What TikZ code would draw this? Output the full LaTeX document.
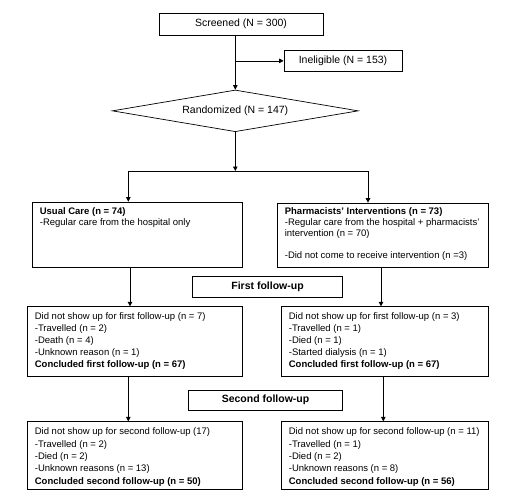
\documentclass[tikz,border=0pt]{standalone}
\usepackage{fontspec}
\setmainfont{Liberation Sans}
\usetikzlibrary{arrows.meta,shapes.geometric}
\begin{document}
\begin{tikzpicture}[x=1pt,y=-1pt,
  box/.style={draw, line width=0.7pt, rectangle, inner sep=0pt},
  big/.style={font=\fontsize{10.5}{12}\selectfont},
  tf/.style={anchor=north west, inner sep=0pt, align=left, font=\fontsize{9.5}{#1}\selectfont},
  arr/.style={line width=0.7pt, -{Triangle[length=4.5pt,width=4.5pt]}},
  ln/.style={line width=0.7pt}]
\useasboundingbox (0,0) rectangle (513,501);

% top
\node[box, big, minimum width=164pt, minimum height=21.7pt] (scr) at (241,24.15) {Screened (N = 300)};
\node[box, big, minimum width=118pt, minimum height=21.7pt] (inel) at (343,60.85) {Ineligible (N = 153)};
\node[draw, line width=0.7pt, diamond, aspect=5.9, minimum width=246pt, minimum height=41.7pt, inner sep=0pt, big] (rand) at (235.3,110.85) {Randomized (N = 147)};
\coordinate (split) at (235.3,171);

% arms
\node[box, minimum width=210.3pt, minimum height=65.7pt] (uc) at (137.15,234.85) {};
\node[box, minimum width=211.3pt, minimum height=64.7pt] (pi) at (382.65,235.35) {};
\node[tf=11pt] (uct) at ([xshift=8pt,yshift=-5.5pt]uc.north west)
  {\rule{0pt}{7.5pt}\textbf{Usual Care (n = 74)}\\-Regular care from the hospital only};
\node[tf=11pt] (pit) at ([xshift=8pt,yshift=-4.5pt]pi.north west)
  {\rule{0pt}{7.5pt}\textbf{Pharmacists' Interventions (n = 73)}\\-Regular care from the hospital + pharmacists'\\intervention (n = 70)\\[11pt]-Did not come to receive intervention (n =3)};

% first follow-up
\node[box, font=\bfseries\fontsize{10.5}{12}\selectfont, minimum width=150.4pt, minimum height=21.7pt] (ff) at (267.5,286.85) {First follow-up};
\node[box, minimum width=215pt, minimum height=69.3pt] (l2) at (134.8,341.35) {};
\node[box, minimum width=206.6pt, minimum height=69.3pt] (r2) at (385,341.35) {};
\node[tf=12pt] (l2t) at ([xshift=7.7pt,yshift=-5.5pt]l2.north west)
  {\rule{0pt}{7.5pt}Did not show up for first follow-up (n = 7)\\-Travelled (n = 2)\\-Death (n = 4)\\-Unknown reason (n = 1)\\\textbf{Concluded first follow-up (n = 67)}};
\node[tf=12pt] (r2t) at ([xshift=7.3pt,yshift=-5.5pt]r2.north west)
  {\rule{0pt}{7.5pt}Did not show up for first follow-up (n = 3)\\-Travelled (n = 1)\\-Died (n = 1)\\-Started dialysis (n = 1)\\\textbf{Concluded first follow-up (n = 67)}};

% second follow-up
\node[box, font=\bfseries\fontsize{10.5}{12}\selectfont, minimum width=154.4pt, minimum height=20pt] (sf) at (265.5,400) {Second follow-up};
\node[box, minimum width=215pt, minimum height=67.6pt] (l3) at (134.8,455.5) {};
\node[box, minimum width=206.6pt, minimum height=67.6pt] (r3) at (385,455.5) {};
\node[tf=12.3pt] (l3t) at ([xshift=7.7pt,yshift=-5.9pt]l3.north west)
  {\rule{0pt}{7.5pt}Did not show up for second follow-up (17)\\-Travelled (n = 2)\\-Died (n = 2)\\-Unknown reasons (n = 13)\\\textbf{Concluded second follow-up (n = 50)}};
\node[tf=12.3pt] (r3t) at ([xshift=7.3pt,yshift=-5.9pt]r3.north west)
  {\rule{0pt}{7.5pt}Did not show up for second follow-up (n = 11)\\-Travelled (n = 1)\\-Died (n = 2)\\-Unknown reasons (n = 8)\\\textbf{Concluded second follow-up (n = 56)}};

% connectors
\draw[arr] (rand.north |- scr.south) -- (rand.north);
\draw[arr] (rand.north |- inel.west) -- (inel.west);
\draw[arr] (rand.south) -- (split);
\draw[arr] (split) -| ([xshift=-8.85pt]uc.north);
\draw[arr] (split) -| ([xshift=-14.65pt]pi.north);
\draw[arr] ([xshift=-7.15pt]uc.south) -- ([xshift=-7.15pt]uc.south |- l2.north);
\draw[arr] ([xshift=-1.65pt]pi.south) -- ([xshift=-1.65pt]pi.south |- r2.north);
\draw[arr] ([xshift=-6.5pt]l2.south) -- ([xshift=-6.5pt]l2.south |- l3.north);
\draw[arr] ([xshift=-1.7pt]r2.south) -- ([xshift=-1.7pt]r2.south |- r3.north);
\end{tikzpicture}
\end{document}
